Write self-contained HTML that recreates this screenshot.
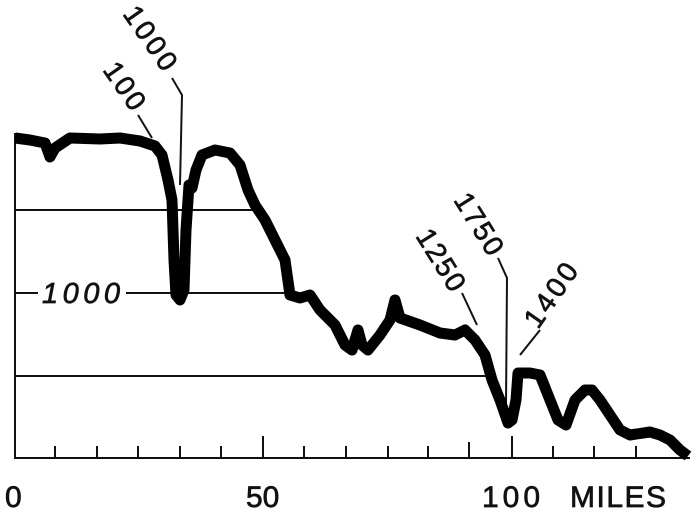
<!DOCTYPE html>
<html><head><style>body{margin:0;background:#fff}svg{display:block}</style></head>
<body>
<svg width="700" height="513" viewBox="0 0 700 513" xmlns="http://www.w3.org/2000/svg" font-family="Liberation Sans, sans-serif">
<g stroke="#111" stroke-width="2" fill="none">
<line x1="15" y1="133" x2="15" y2="459"/>
<line x1="15" y1="458" x2="690" y2="458"/>
<line x1="15" y1="210" x2="255" y2="210"/>
<line x1="15" y1="293" x2="38" y2="293"/>
<line x1="126" y1="293" x2="290" y2="293"/>
<line x1="15" y1="376" x2="488" y2="376"/>
<line x1="55" y1="446" x2="55" y2="458"/>
<line x1="97" y1="446" x2="97" y2="458"/>
<line x1="138" y1="446" x2="138" y2="458"/>
<line x1="180" y1="446" x2="180" y2="458"/>
<line x1="221" y1="446" x2="221" y2="458"/>
<line x1="263" y1="436" x2="263" y2="458"/>
<line x1="304" y1="446" x2="304" y2="458"/>
<line x1="346" y1="446" x2="346" y2="458"/>
<line x1="388" y1="446" x2="388" y2="458"/>
<line x1="428" y1="446" x2="428" y2="458"/>
<line x1="469" y1="442" x2="469" y2="458"/>
<line x1="512" y1="436" x2="512" y2="458"/>
<line x1="553" y1="446" x2="553" y2="458"/>
<line x1="594" y1="446" x2="594" y2="458"/>
<line x1="636" y1="446" x2="636" y2="458"/>
<polyline points="138,115 152,138"/>
<polyline points="172,78 182,95 180,185"/>
<polyline points="462,293 477,325"/>
<polyline points="498,258 507,278 506,405"/>
<polyline points="540,330 520,355"/>
</g>
<polyline fill="none" stroke="#000" stroke-width="11" stroke-linejoin="round" points="15,138 30,140 45,143 50,157 55,148 70,138 100,139 120,138 140,141 155,146 162,155 168,180 172,200 174,260 176,295 180,300 184,290 186,230 189,185 192,188 196,170 202,155 215,150 230,153 240,165 248,190 255,205 265,220 275,240 285,260 290,295 300,298 310,295 320,310 335,325 345,345 352,350 358,330 362,345 368,350 380,335 390,320 395,300 400,318 420,325 440,333 455,335 465,330 475,340 485,355 492,380 500,400 508,423 512,420 516,400 518,373 530,373 540,375 548,395 558,420 566,425 575,400 585,390 592,390 600,400 610,415 620,430 630,435 650,432 660,435 670,440 680,450 688,456"/>
<g fill="#111" stroke="#111" stroke-width="0.7" font-size="28">
<text transform="translate(102,70) rotate(55)" textLength="52">100</text>
<text transform="translate(122,14) rotate(55)" textLength="72">1000</text>
<text transform="translate(415,236) rotate(58)" textLength="68">1250</text>
<text transform="translate(453,200) rotate(58)" textLength="68">1750</text>
<text transform="translate(538,330) rotate(-55)" textLength="72">1400</text>
<text x="42" y="303" font-style="italic" font-size="29" textLength="78">1000</text>
<text x="5" y="507" font-size="30">0</text>
<text x="246" y="507" font-size="30">50</text>
<text x="482" y="507" font-size="30" textLength="58">100</text>
<text x="570" y="507" font-size="30" textLength="96">MILES</text>
</g>
</svg>
</body></html>
